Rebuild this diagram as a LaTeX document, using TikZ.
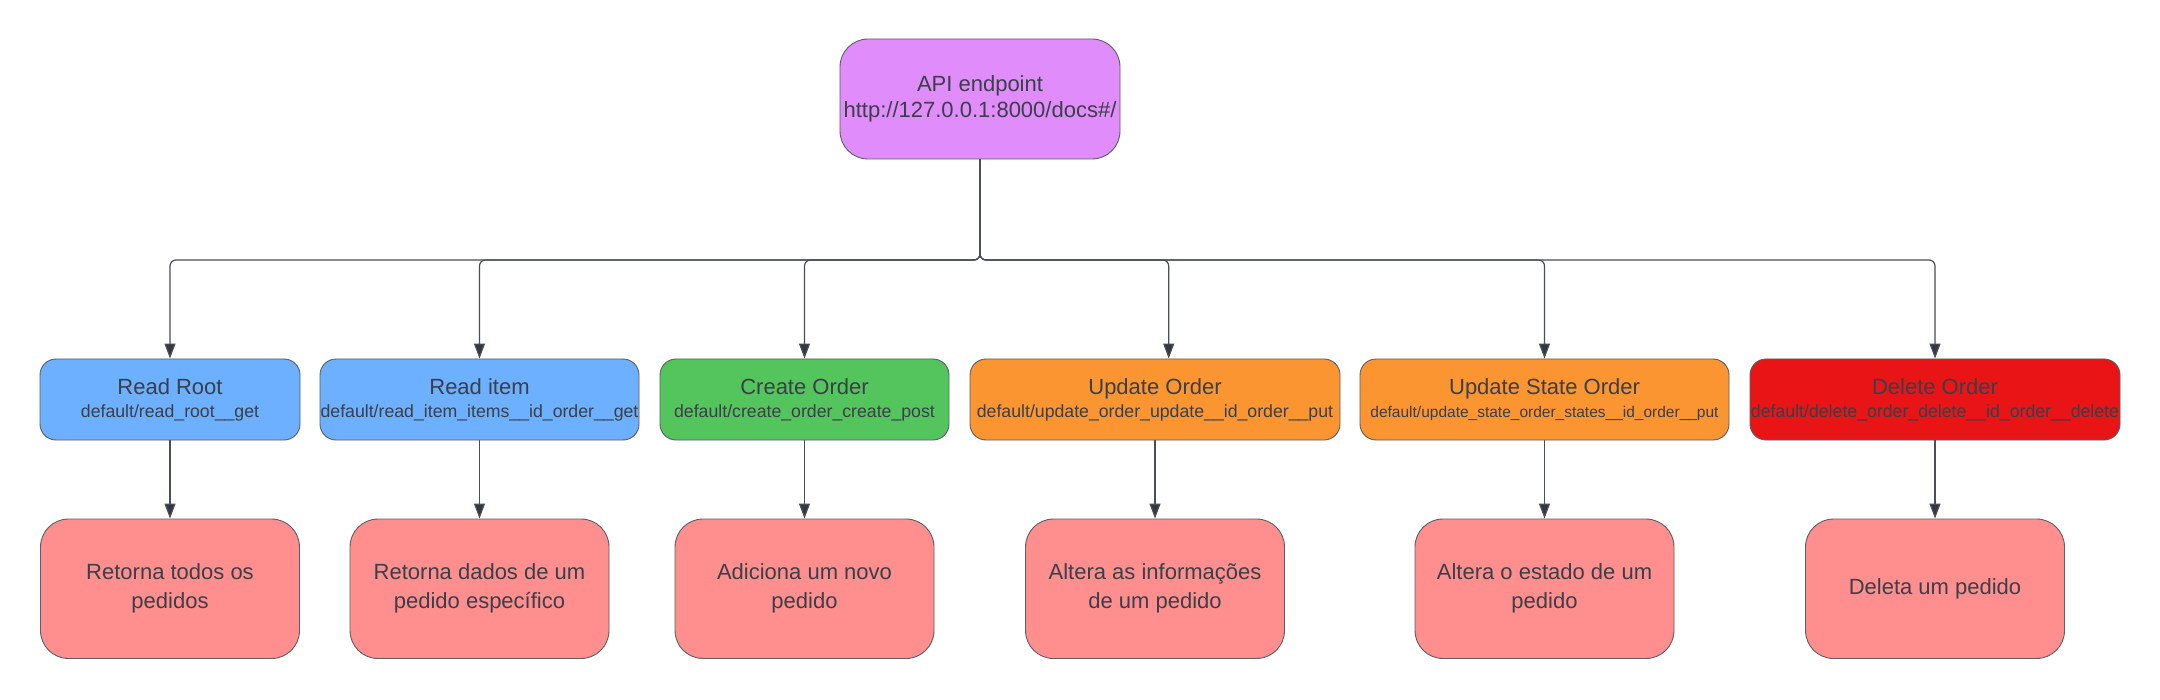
\documentclass[tikz,border=0pt]{standalone}
\usepackage{fontspec}
\setmainfont{Liberation Sans}
\usetikzlibrary{arrows.meta}
\definecolor{txt}{HTML}{3A3F48}
\definecolor{edgec}{HTML}{5A5E66}
\definecolor{linec}{HTML}{4A4E57}
\definecolor{tipc}{HTML}{333842}
\definecolor{apic}{HTML}{E08CFA}
\definecolor{bluec}{HTML}{6CB0FF}
\definecolor{greenc}{HTML}{54C45D}
\definecolor{orangec}{HTML}{FB9532}
\definecolor{redc}{HTML}{E81416}
\definecolor{pinkc}{HTML}{FF8F8F}
\tikzset{
  apibox/.style={draw=edgec, line width=0.9pt, fill=apic, rounded corners=28pt, inner sep=0pt,
    minimum width=280pt, minimum height=120pt, align=center, text=txt, font=\fontsize{22}{26}\selectfont},
  opbox/.style={draw=edgec, line width=0.9pt, rounded corners=16pt, inner sep=0pt,
    minimum height=81pt, align=center, text=txt, font=\fontsize{22}{23}\selectfont},
  resbox/.style={draw=edgec, line width=0.9pt, fill=pinkc, rounded corners=28pt, inner sep=0pt,
    minimum width=259pt, minimum height=139.5pt, align=center, text=txt, font=\fontsize{22}{29}\selectfont},
  conn/.style={draw=linec, line width=1.2pt, rounded corners=6pt, -{Triangle[length=15pt,width=11pt,fill=tipc]}},
}
\newcommand{\subl}{\fontsize{17.7}{23}\selectfont}
\begin{document}
\begin{tikzpicture}[x=1pt,y=-1pt]
\useasboundingbox[fill=white] (0,0) rectangle (2160,700);
\node[apibox] (api) at (980,99) {API endpoint\\http://127.0.0.1:8000/docs\#/};
\coordinate (bus) at (980,260);

\node[opbox, fill=bluec, minimum width=260pt] (rr) at (170,399.5) {Read Root\\{\subl default/read\_root\_\_get}};
\node[opbox, fill=bluec, minimum width=319pt] (ri) at (479.5,399.5) {Read item\\{\subl default/read\_item\_items\_\_id\_order\_\_get}};
\node[opbox, fill=greenc, minimum width=289pt] (co) at (804.5,399.5) {Create Order\\{\subl default/create\_order\_create\_post}};
\node[opbox, fill=orangec, minimum width=370pt] (uo) at (1155,399.5) {Update Order\\{\subl default/update\_order\_update\_\_id\_order\_\_put}};
\node[opbox, fill=orangec, minimum width=369pt] (us) at (1544.5,399.5) {Update State Order\\{\fontsize{15.5}{23}\selectfont default/update\_state\_order\_states\_\_id\_order\_\_put}};
\node[opbox, fill=redc, minimum width=370pt] (del) at (1935,399.5) {Delete Order\\{\subl default/delete\_order\_delete\_\_id\_order\_\_delete}};

\node[resbox] (r1) at (170,588.75) {Retorna todos os\\pedidos};
\node[resbox] (r2) at (479.5,588.75) {Retorna dados de um\\pedido específico};
\node[resbox] (r3) at (804.5,588.75) {Adiciona um novo\\pedido};
\node[resbox] (r4) at (1155,588.75) {Altera as informações\\de um pedido};
\node[resbox] (r5) at (1544.5,588.75) {Altera o estado de um\\pedido};
\node[resbox] (r6) at (1935,588.75) {Deleta um pedido};

\coordinate (uoin) at ([xshift=13.7pt]uo.north);

\draw[conn] (api.south) -- (api.south |- bus) -| (rr.north);
\draw[conn] (api.south) -- (api.south |- bus) -| (ri.north);
\draw[conn] (api.south) -- (api.south |- bus) -| (co.north);
\draw[conn] (api.south) -- (api.south |- bus) -| (uoin);
\draw[conn] (api.south) -- (api.south |- bus) -| (us.north);
\draw[conn] (api.south) -- (api.south |- bus) -| (del.north);

\draw[conn] (rr.south) -- (r1.north);
\draw[conn] (ri.south) -- (r2.north);
\draw[conn] (co.south) -- (r3.north);
\draw[conn] (uo.south) -- (r4.north);
\draw[conn] (us.south) -- (r5.north);
\draw[conn] (del.south) -- (r6.north);
\end{tikzpicture}
\end{document}
